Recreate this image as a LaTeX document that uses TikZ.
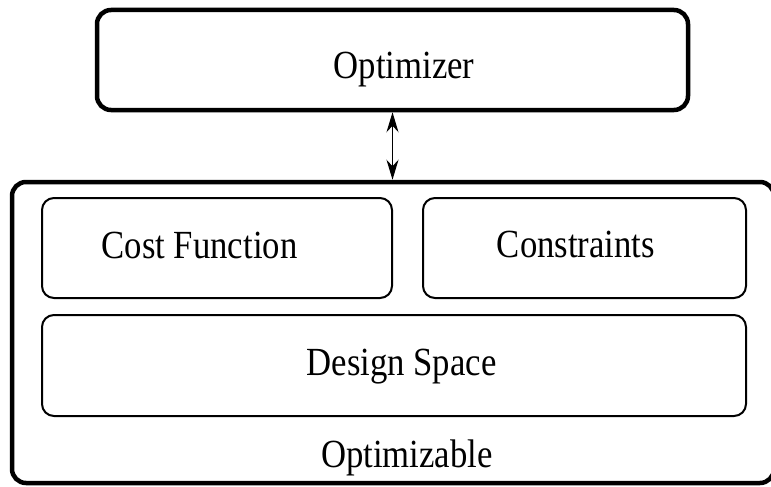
\documentclass[tikz,border=0pt]{standalone}
\usepackage{fontspec}
\setmainfont{Liberation Serif}
\usetikzlibrary{calc,arrows.meta}
\tikzstyle{outerbox} = [rectangle, rounded corners=14pt, line width=4.5pt, draw=black]
\tikzstyle{innerbox} = [rectangle, rounded corners=12pt, line width=2pt, draw=black]
\tikzstyle{boxtext} = [anchor=base, inner sep=0pt, font=\fontsize{34.7}{40}\selectfont]
\tikzstyle{arrow} = [line width=1.4pt,{Stealth[length=20pt,width=12pt]}-{Stealth[length=20pt,width=12pt]}]
\newcommand{\tall}[1]{\scalebox{1}[1.15]{#1}}

\begin{document}
\begin{tikzpicture}[x=1pt,y=-1pt]
\useasboundingbox (0,0) rectangle (771,487);
\node (opt) [outerbox, minimum width=591pt, minimum height=100pt] at (392.5,60) {};
\node (opttext) [boxtext] at (404,78) {\tall{Optimizer}};
\node (optbl) [outerbox, minimum width=762pt, minimum height=301pt] at (393,332.5) {};
\node (cost) [innerbox, minimum width=350pt, minimum height=100pt] at (217,248) {};
\node (costtext) [boxtext] at (199.5,258) {\tall{Cost Function}};
\node (cons) [innerbox, minimum width=323pt, minimum height=100pt] at (584.5,248) {};
\node (constext) [boxtext] at (576,257) {\tall{Constraints}};
\node (space) [innerbox, minimum width=704pt, minimum height=101pt] at (394,365.5) {};
\node (spacetext) [boxtext] at (401.5,375) {\tall{Design Space}};
\node (optbltext) [boxtext] at (407,467) {\tall{Optimizable}};
\draw [arrow] (opt.south) -- (opt.south |- optbl.north);

\end{tikzpicture}
\end{document}
